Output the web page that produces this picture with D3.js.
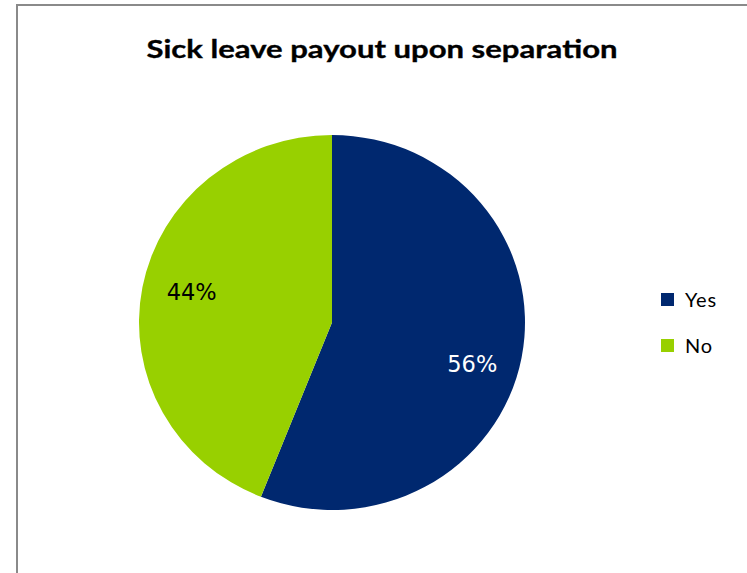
<!DOCTYPE html>
<html>
<head>
<meta charset="utf-8">
<script src="https://cdn.jsdelivr.net/npm/d3@7"></script>
<style>
  html, body { margin: 0; padding: 0; background: #fff; }
  svg { display: block; }
</style>
</head>
<body>
<svg id="chart" width="747" height="573"></svg>
<script>
// Survey result: does the employer pay out sick leave on separation?
const categories = ["Yes", "No"];
const shares = [56, 44];
const sliceLabels = ["56%", "44%"];
const colors = ["#00286f", "#98d000"];
const title = "Sick leave payout upon separation";

const svg = d3.select("#chart");

// chart area frame (continues past the right and bottom edges)
svg.append("rect")
  .attr("x", 17).attr("y", 5)
  .attr("width", 800).attr("height", 700)
  .attr("fill", "#fff")
  .attr("stroke", "#8a8a8a")
  .attr("stroke-width", 2);

// title
svg.append("text")
  .attr("x", 382).attr("y", 58)
  .attr("text-anchor", "middle")
  .attr("font-family", "Lato, 'Open Sans', sans-serif")
  .attr("font-weight", "bold")
  .attr("font-size", 25)
  .attr("stroke", "#000")
  .attr("stroke-width", 0.35)
  .attr("textLength", 471)
  .attr("lengthAdjust", "spacingAndGlyphs")
  .attr("fill", "#000")
  .text(title);

// pie
const cx = 332, cy = 322.5, r = 193, squash = 187.5 / 193;
const pie = d3.pie().sort(null).value(d => d.v);
const arcs = pie(categories.map((c, i) => ({ c, v: shares[i], i })));
const arc = d3.arc().innerRadius(0).outerRadius(r);

const g = svg.append("g")
  .attr("transform", `translate(${cx},${cy}) scale(1,${squash})`);

g.selectAll("path")
  .data(arcs)
  .join("path")
  .attr("d", arc)
  .attr("fill", d => colors[d.data.i]);

// value labels inside the slices, nudged off the mid-angle like the
// spreadsheet's automatic placement
const labelArc = d3.arc().innerRadius(r * 0.74).outerRadius(r * 0.74);
const labelNudge = [[0, 16], [0, -5]];
svg.append("g")
  .selectAll("text")
  .data(arcs)
  .join("text")
  .attr("x", d => cx + labelArc.centroid(d)[0] + labelNudge[d.data.i][0])
  .attr("y", d => cy + labelArc.centroid(d)[1] * squash + labelNudge[d.data.i][1])
  .attr("text-anchor", "middle")
  .attr("dominant-baseline", "central")
  .attr("font-family", "'DejaVu Sans', Verdana, sans-serif")
  .attr("font-size", 22.5)
  .attr("fill", d => d.data.i === 0 ? "#fff" : "#000")
  .text(d => sliceLabels[d.data.i]);

// legend
const legend = svg.append("g").attr("transform", "translate(661,293)");
const item = legend.selectAll("g")
  .data(categories)
  .join("g")
  .attr("transform", (d, i) => `translate(0,${i * 46})`);
item.append("rect")
  .attr("width", 13).attr("height", 13)
  .attr("fill", (d, i) => colors[i]);
item.append("text")
  .attr("x", 24).attr("y", 14)
  .attr("font-family", "Lato, 'Open Sans', sans-serif")
  .attr("font-size", 20)
  .attr("letter-spacing", 0.8)
  .attr("fill", "#000")
  .text(d => d);
</script>
</body>
</html>
